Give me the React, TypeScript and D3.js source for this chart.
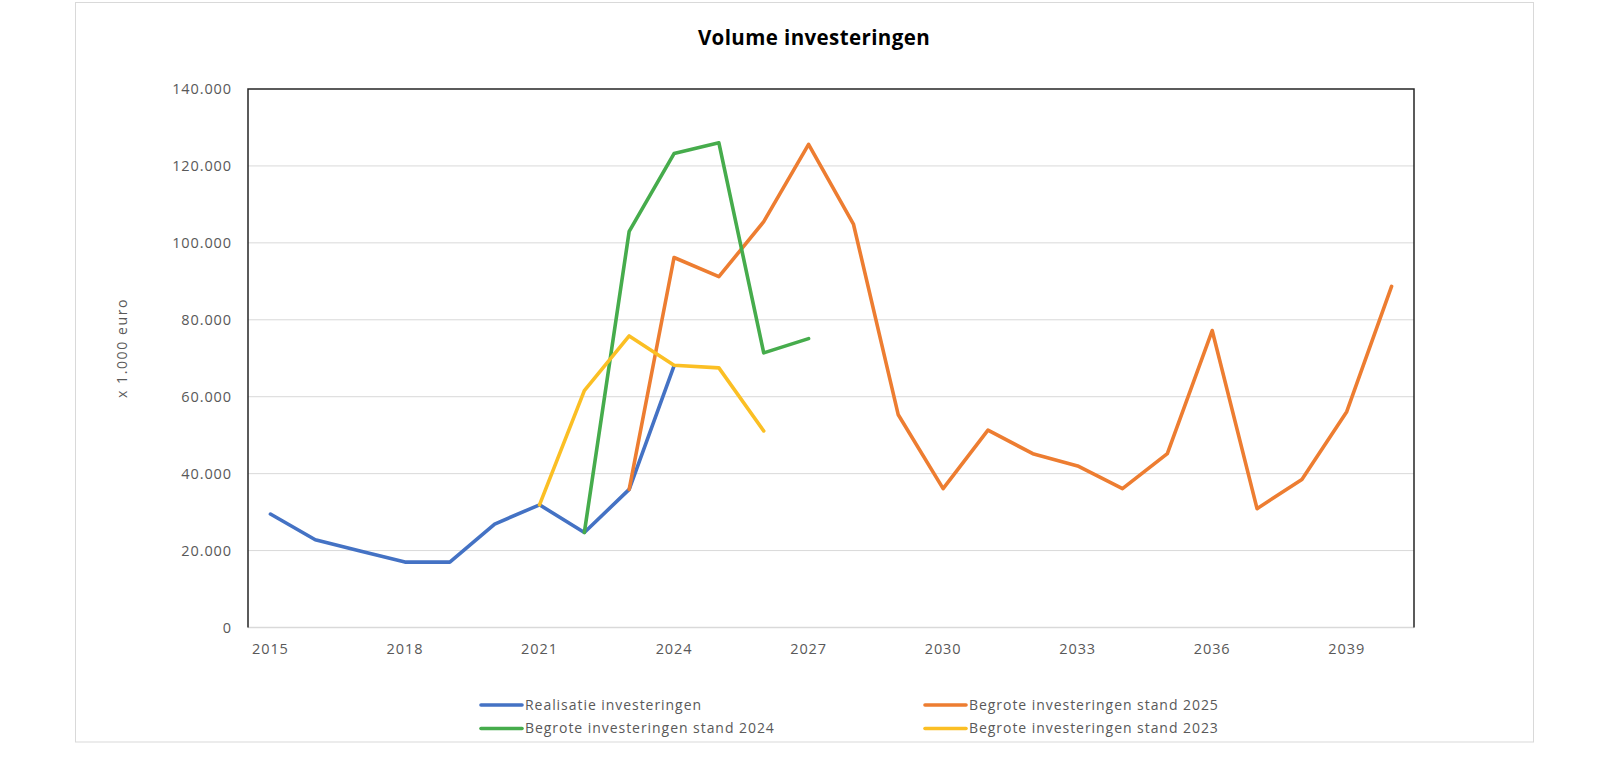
import React from "react";
import * as d3 from "d3";

const years = [
  "2015", "2016", "2017", "2018", "2019", "2020", "2021", "2022", "2023",
  "2024", "2025", "2026", "2027", "2028", "2029", "2030", "2031", "2032",
  "2033", "2034", "2035", "2036", "2037", "2038", "2039", "2040",
];

const realisatie = [
  29500, 22800, 19900, 17000, 17000, 26900, 31900, 24700, 35900, 68000,
  null, null, null, null, null, null, null, null, null, null, null, null, null, null, null, null,
];

const stand2025 = [
  null, null, null, null, null, null, null, null, 35900, 96200, 91200, 105500,
  125600, 104900, 55300, 36100, 51300, 45200, 42000, 36100, 45200, 77200,
  30900, 38500, 56100, 88700,
];

const stand2024 = [
  null, null, null, null, null, null, null, 24700, 103000, 123200, 126000,
  71400, 75100, null, null, null, null, null, null, null, null, null, null, null, null, null,
];

const stand2023 = [
  null, null, null, null, null, null, 31900, 61600, 75800, 68200, 67500, 51100,
  null, null, null, null, null, null, null, null, null, null, null, null, null, null,
];

const yTicks = [0, 20000, 40000, 60000, 80000, 100000, 120000, 140000];
const xTickLabels = ["2015", "2018", "2021", "2024", "2027", "2030", "2033", "2036", "2039"];

const seriesNames = [
  "Realisatie investeringen",
  "Begrote investeringen stand 2025",
  "Begrote investeringen stand 2024",
  "Begrote investeringen stand 2023",
];
const seriesColors = ["#4472C4", "#ED7D31", "#46AC4C", "#FBBF24"];
const seriesData = [realisatie, stand2025, stand2024, stand2023];

const W = 1600;
const H = 778;
const plot = { left: 248, right: 1414, top: 89, bottom: 627.5 };
const FONT = "'Open Sans', 'DejaVu Sans', sans-serif";

const locale = d3.formatLocale({ decimal: ",", thousands: ".", grouping: [3], currency: ["€", ""] });
const fmt = locale.format(",d");

export default function App() {
  const x = d3.scalePoint<string>().domain(years).range([plot.left, plot.right]).padding(0.5);
  const y = d3.scaleLinear().domain([0, 140000]).range([plot.bottom, plot.top]);

  const line = d3
    .line<number | null>()
    .defined((d) => d !== null)
    .x((_, i) => x(years[i]) as number)
    .y((d) => y(d as number));

  const legendItems = [
    { i: 0, lx: 481, ly: 705 },
    { i: 1, lx: 925, ly: 705 },
    { i: 2, lx: 481, ly: 728.5 },
    { i: 3, lx: 925, ly: 728.5 },
  ];

  return (
    <svg
      width={W}
      height={H}
      style={{ position: "absolute", left: 0, top: 0, background: "#fff" }}
      fontFamily={FONT}
    >
      <rect x={0} y={0} width={W} height={H} fill="#fff" />
      <rect x={75.5} y={2.5} width={1458} height={739.5} fill="#fff" stroke="#d9d9d9" strokeWidth={1} />

      <text x={814} y={45} textAnchor="middle" fontSize={20.5} fontWeight="bold" fill="#000" letterSpacing={0.4}>
        Volume investeringen
      </text>

      {yTicks.map((t) => (
        <g key={t}>
          {t > 0 && t < 140000 && (
            <line x1={plot.left} x2={plot.right} y1={y(t)} y2={y(t)} stroke="#d9d9d9" strokeWidth={1} />
          )}
          <text x={232} y={y(t)} dy="0.35em" textAnchor="end" fontSize={14.5} letterSpacing={0.9} fill="#595959">
            {fmt(t)}
          </text>
        </g>
      ))}

      <line x1={plot.left} x2={plot.right} y1={plot.bottom} y2={plot.bottom} stroke="#d9d9d9" strokeWidth={1.5} />
      <path
        d={`M${plot.left},${plot.bottom} V${plot.top} H${plot.right} V${plot.bottom}`}
        fill="none"
        stroke="#262626"
        strokeWidth={1.5}
      />

      {xTickLabels.map((l) => (
        <text key={l} x={x(l) as number} y={649} dy="0.35em" textAnchor="middle" fontSize={14.5} letterSpacing={0.9} fill="#595959">
          {l}
        </text>
      ))}

      <text
        transform={`translate(122,348) rotate(-90)`}
        textAnchor="middle"
        dy="0.35em"
        fontSize={14}
        letterSpacing={1.6}
        fill="#595959"
      >
        x 1.000 euro
      </text>

      {seriesData.map((d, i) => (
        <path
          key={i}
          d={line(d) || ""}
          fill="none"
          stroke={seriesColors[i]}
          strokeWidth={3.6}
          strokeLinejoin="round"
          strokeLinecap="round"
        />
      ))}

      {legendItems.map(({ i, lx, ly }) => (
        <g key={i}>
          <line x1={lx} x2={lx + 41} y1={ly} y2={ly} stroke={seriesColors[i]} strokeWidth={3.6} strokeLinecap="round" />
          <text x={lx + 44} y={ly} dy="0.35em" fontSize={14} letterSpacing={0.95} fill="#595959">
            {seriesNames[i]}
          </text>
        </g>
      ))}
    </svg>
  );
}
